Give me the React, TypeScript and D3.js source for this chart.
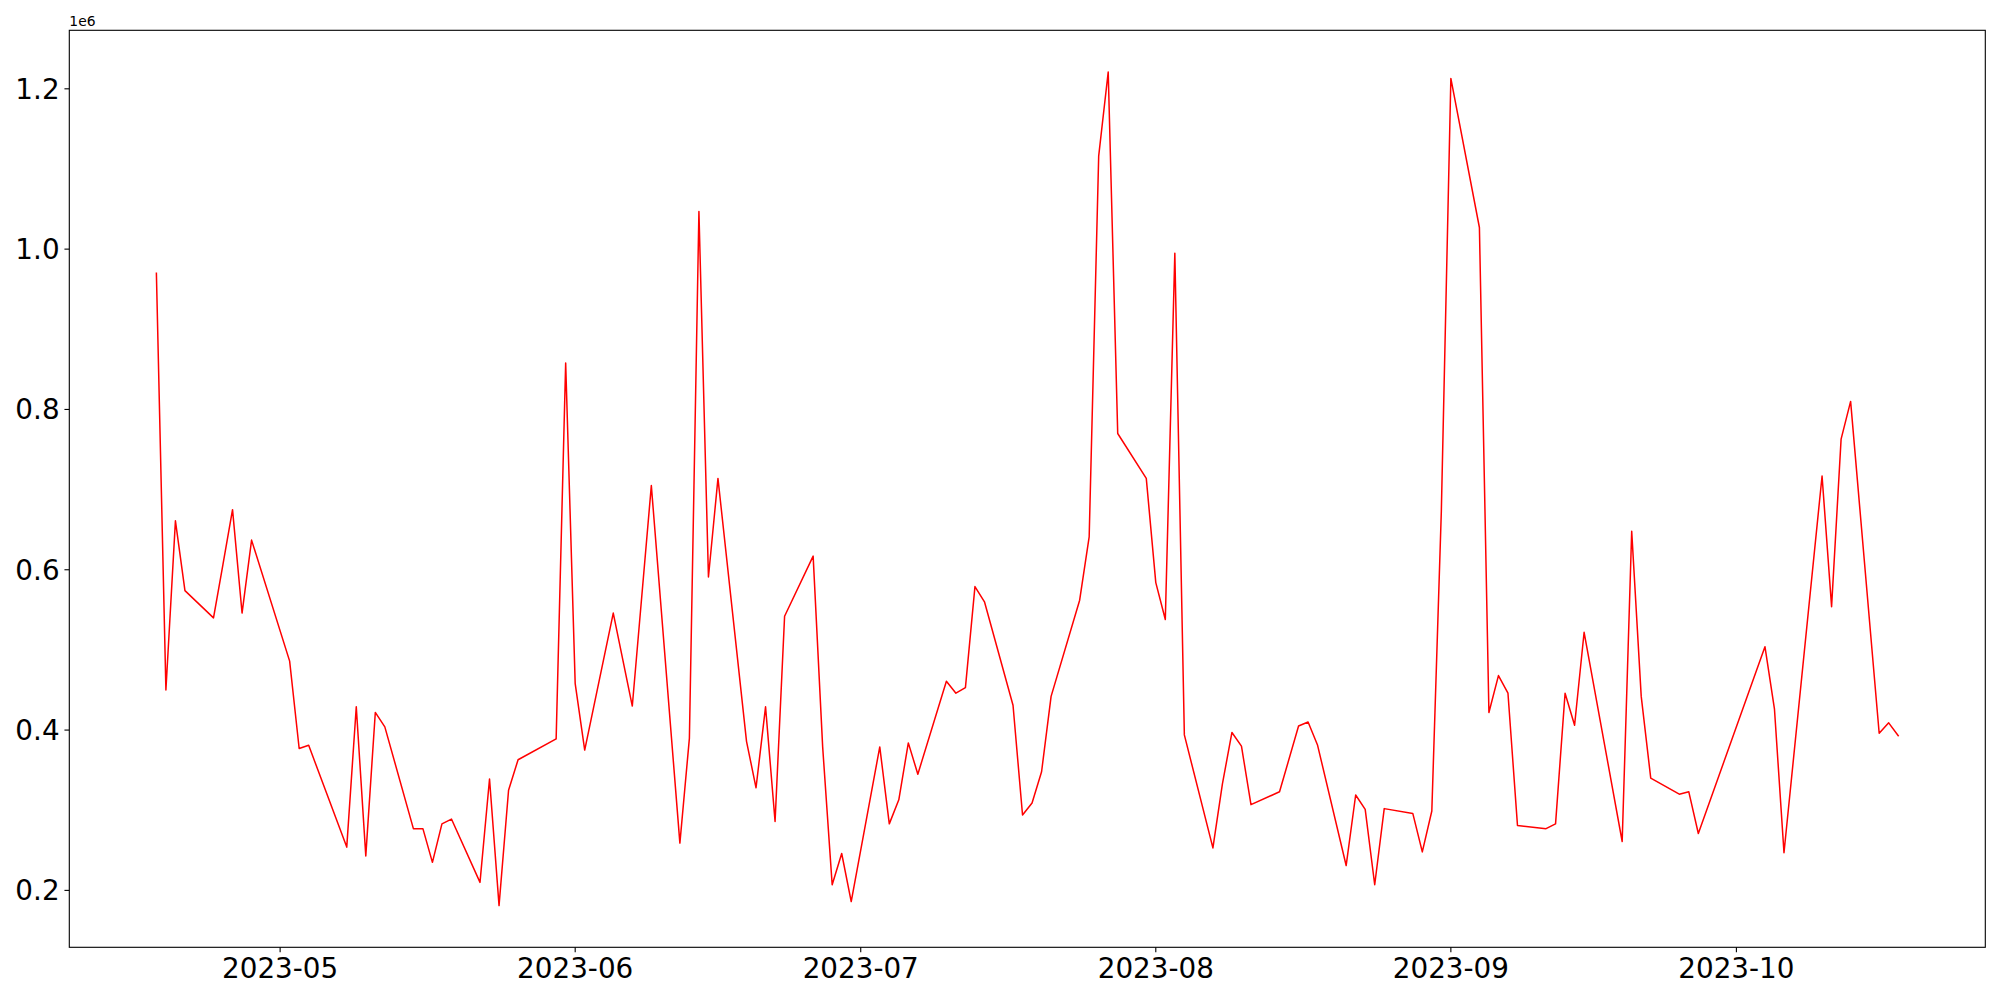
import React from "react";
import * as d3 from "d3";

const dates: string[] = [
  "2023-04-18","2023-04-19","2023-04-20","2023-04-21","2023-04-24","2023-04-25","2023-04-26","2023-04-27","2023-04-28",
  "2023-05-02","2023-05-03","2023-05-04","2023-05-08","2023-05-09","2023-05-10","2023-05-11","2023-05-12",
  "2023-05-15","2023-05-16","2023-05-17","2023-05-18","2023-05-19","2023-05-22","2023-05-23","2023-05-24","2023-05-25","2023-05-26",
  "2023-05-30","2023-05-31","2023-06-01","2023-06-02","2023-06-05","2023-06-07","2023-06-09",
  "2023-06-12","2023-06-13","2023-06-14","2023-06-15","2023-06-16","2023-06-19","2023-06-20","2023-06-21","2023-06-22","2023-06-23",
  "2023-06-26","2023-06-27","2023-06-28","2023-06-29","2023-06-30","2023-07-03","2023-07-04","2023-07-05","2023-07-06","2023-07-07",
  "2023-07-10","2023-07-11","2023-07-12","2023-07-13","2023-07-14","2023-07-17","2023-07-18","2023-07-19","2023-07-20","2023-07-21",
  "2023-07-24","2023-07-25","2023-07-26","2023-07-27","2023-07-28","2023-07-31","2023-08-01","2023-08-02","2023-08-03","2023-08-04",
  "2023-08-07","2023-08-08","2023-08-09","2023-08-10","2023-08-11","2023-08-14","2023-08-16","2023-08-17","2023-08-18",
  "2023-08-21","2023-08-22","2023-08-23","2023-08-24","2023-08-25","2023-08-28","2023-08-29","2023-08-30","2023-08-31","2023-09-01",
  "2023-09-04","2023-09-05","2023-09-06","2023-09-07","2023-09-08","2023-09-11","2023-09-12","2023-09-13","2023-09-14","2023-09-15",
  "2023-09-19","2023-09-20","2023-09-21","2023-09-22","2023-09-25","2023-09-26","2023-09-27",
  "2023-10-04","2023-10-05","2023-10-06","2023-10-10","2023-10-11","2023-10-12","2023-10-13","2023-10-16","2023-10-17","2023-10-18",
];

const values: number[] = [
  970000,450000,661000,574000,540000,607000,675000,546000,637000,
  486000,377000,381000,254000,429000,243000,422000,404000,
  277000,277000,235000,283000,289000,210000,339000,181000,325000,363000,
  389000,858000,458000,375000,546000,430000,705000,
  259000,390000,1047000,591000,714000,386000,328000,429000,286000,542000,
  617000,379000,207000,246000,186000,379000,283000,313000,384000,345000,
  461000,446000,453000,579000,560000,431000,294000,309000,348000,442000,
  562000,641000,1116000,1221000,770000,714000,584000,538000,995000,394000,
  253000,333000,397000,380000,307000,323000,405000,410000,381000,
  231000,319000,301000,207000,302000,296000,248000,299000,673000,1213000,
  1027000,422000,468000,446000,281000,277000,283000,446000,406000,522000,
  261000,648000,442000,340000,320000,323000,271000,
  504000,426000,247000,717000,554000,763000,810000,396000,409000,393000,
];

const xTickLabels: string[] = ["2023-05","2023-06","2023-07","2023-08","2023-09","2023-10"];
const yTickValues: number[] = [200000, 400000, 600000, 800000, 1000000, 1200000];

export default function App() {
  const W = 2000, H = 1000;
  const left = 69.3, right = 1985.3, top = 30.3, bottom = 947.3;
  const parse = d3.utcParse("%Y-%m-%d");
  const data = dates.map((d, i) => ({ date: parse(d) as Date, value: values[i] }));

  const [x0, x1] = d3.extent(data, d => d.date) as [Date, Date];
  const xPad = (x1.getTime() - x0.getTime()) * 0.05;
  const x = d3.scaleUtc()
    .domain([new Date(x0.getTime() - xPad), new Date(x1.getTime() + xPad)])
    .range([left, right]);

  const [y0, y1] = d3.extent(data, d => d.value) as [number, number];
  const yPad = (y1 - y0) * 0.05;
  const y = d3.scaleLinear().domain([y0 - yPad, y1 + yPad]).range([bottom, top]);

  const line = d3.line<{ date: Date; value: number }>()
    .x(d => x(d.date))
    .y(d => y(d.value));

  const xTicks = xTickLabels.map(s => ({ label: s, date: d3.utcParse("%Y-%m")(s) as Date }));
  const font = "'DejaVu Sans', sans-serif";
  const tickLen = 4.86;

  return (
    <svg width={W} height={H} style={{ position: "absolute", left: 0, top: 0, background: "#fff" }}>
      <rect x={0} y={0} width={W} height={H} fill="#fff" />
      <path d={line(data) || ""} fill="none" stroke="#ff0000" strokeWidth={1.5} strokeLinejoin="round" strokeLinecap="square" />
      <rect x={left} y={top} width={right - left} height={bottom - top} fill="none" stroke="#000" strokeWidth={1.1} />
      {xTicks.map(t => (
        <g key={t.label}>
          <line x1={x(t.date)} x2={x(t.date)} y1={bottom} y2={bottom + tickLen} stroke="#000" strokeWidth={1.1} />
          <text x={x(t.date)} y={978} textAnchor="middle" fontFamily={font} fontSize={27.8} fill="#000">{t.label}</text>
        </g>
      ))}
      {yTickValues.map(v => (
        <g key={v}>
          <line x1={left - tickLen} x2={left} y1={y(v)} y2={y(v)} stroke="#000" strokeWidth={1.1} />
          <text x={left - tickLen - 4.86} y={y(v)} dy="0.36em" textAnchor="end" fontFamily={font} fontSize={27.8} fill="#000">{(v / 1e6).toFixed(1)}</text>
        </g>
      ))}
      <text x={left} y={26} fontFamily={font} fontSize={13.9} fill="#000">1e6</text>
    </svg>
  );
}
